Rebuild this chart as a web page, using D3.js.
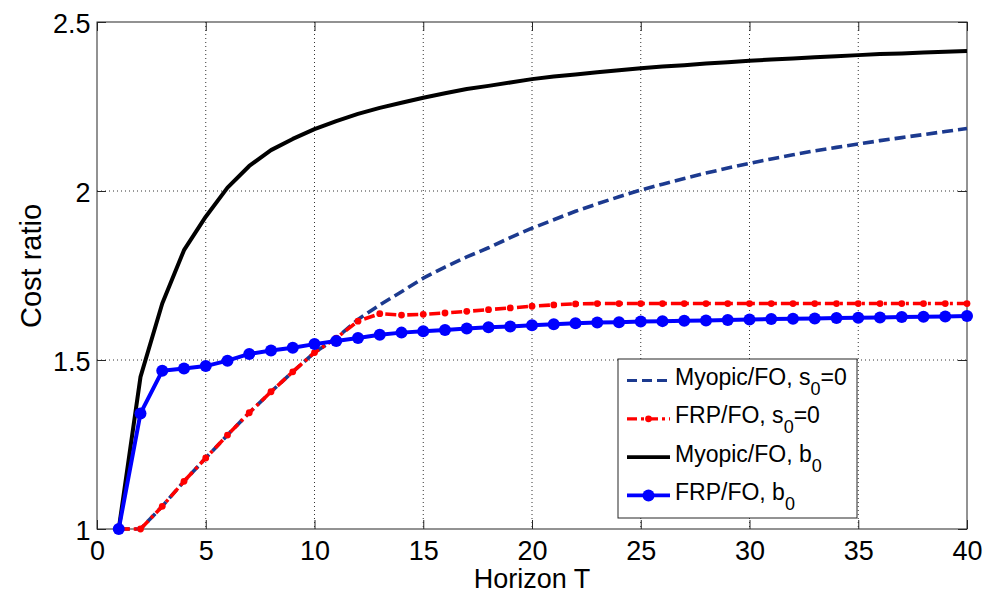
<!DOCTYPE html>
<html><head><meta charset="utf-8">
<script src="https://cdn.jsdelivr.net/npm/d3@7/dist/d3.min.js"></script>
<style>
body{margin:0;background:#fff}
svg{display:block;background:#fff}
text{font-family:"Liberation Sans",Arial,Helvetica,sans-serif;fill:#000}
</style>
</head><body>
<svg id="chart" width="989" height="597"></svg>
<script>
// ---------- data ----------
const horizon = [1,2,3,4,5,6,7,8,9,10,11,12,13,14,15,16,17,18,19,20,21,22,23,24,25,26,27,28,29,30,31,32,33,34,35,36,37,38,39,40];
const myopicS0 = [1.000,1.000,1.067,1.141,1.210,1.278,1.344,1.406,1.465,1.522,1.565,1.620,1.663,1.702,1.742,1.775,1.805,1.832,1.862,1.890,1.915,1.940,1.962,1.983,2.003,2.020,2.037,2.053,2.068,2.082,2.095,2.107,2.119,2.129,2.139,2.149,2.158,2.167,2.176,2.185];
const frpS0    = [1.000,1.000,1.067,1.141,1.210,1.278,1.344,1.406,1.465,1.522,1.565,1.615,1.637,1.633,1.635,1.639,1.644,1.649,1.654,1.659,1.663,1.666,1.667,1.667,1.667,1.667,1.667,1.667,1.667,1.667,1.667,1.667,1.667,1.667,1.667,1.667,1.667,1.667,1.667,1.667];
const myopicB0 = [1.000,1.450,1.667,1.825,1.924,2.010,2.074,2.121,2.154,2.183,2.207,2.228,2.246,2.261,2.276,2.289,2.302,2.311,2.321,2.331,2.339,2.345,2.351,2.357,2.363,2.368,2.372,2.377,2.381,2.385,2.389,2.392,2.396,2.399,2.402,2.405,2.407,2.410,2.412,2.414];
const frpB0    = [1.000,1.342,1.468,1.475,1.482,1.498,1.518,1.528,1.536,1.547,1.556,1.565,1.575,1.581,1.585,1.589,1.593,1.597,1.599,1.603,1.606,1.609,1.611,1.612,1.614,1.615,1.616,1.617,1.618,1.620,1.621,1.622,1.623,1.624,1.625,1.626,1.627,1.628,1.629,1.630];

const xTicks = [0,5,10,15,20,25,30,35,40];
const yTicks = [1,1.5,2,2.5];
const yTickLabels = ["1","1.5","2","2.5"];
const xLabel = "Horizon T";
const yLabel = "Cost ratio";
// legend labels: [main, subscript, after]
const legendLabels = [
  ["Myopic/FO, s","0","=0"],
  ["FRP/FO, s","0","=0"],
  ["Myopic/FO, b","0",""],
  ["FRP/FO, b","0",""]
];

// ---------- layout ----------
const m = {left:97, right:967, top:22, bottom:529};
const svg = d3.select("#chart");

const x = d3.scaleLinear().domain([0,40]).range([m.left, m.right]);
const y = d3.scaleLinear().domain([1,2.5]).range([m.bottom, m.top]);

// grid
const grid = svg.append("g").attr("class","grid");
grid.selectAll("line.gx").data(xTicks.slice(1,-1)).join("line")
  .attr("x1",d=>x(d)).attr("x2",d=>x(d)).attr("y1",m.top).attr("y2",m.bottom)
  .attr("stroke","#333").attr("stroke-width",1).attr("stroke-dasharray","1,3");
grid.selectAll("line.gy").data(yTicks.slice(1,-1)).join("line")
  .attr("y1",d=>y(d)).attr("y2",d=>y(d)).attr("x1",m.left).attr("x2",m.right)
  .attr("stroke","#333").attr("stroke-width",1).attr("stroke-dasharray","1,3");

// axes
const tickLen = 9;
const fs = 27;
const gB = svg.append("g").attr("transform",`translate(0,${m.bottom})`)
  .call(d3.axisBottom(x).tickValues(xTicks).tickFormat(d3.format("d")).tickSizeInner(-tickLen).tickSizeOuter(0).tickPadding(12));
const gT = svg.append("g").attr("transform",`translate(0,${m.top})`)
  .call(d3.axisTop(x).tickValues(xTicks).tickFormat("").tickSizeInner(-tickLen).tickSizeOuter(0));
const gL = svg.append("g").attr("transform",`translate(${m.left},0)`)
  .call(d3.axisLeft(y).tickValues(yTicks).tickFormat((d,i)=>yTickLabels[i]).tickSizeInner(-tickLen).tickSizeOuter(0).tickPadding(6.5));
const gR = svg.append("g").attr("transform",`translate(${m.right},0)`)
  .call(d3.axisRight(y).tickValues(yTicks).tickFormat("").tickSizeInner(-tickLen).tickSizeOuter(0));
[gB,gT,gL,gR].forEach(g=>{
  g.select(".domain").remove();
  g.selectAll(".tick line").attr("stroke","#262626").attr("stroke-width",1);
  g.selectAll("text").attr("font-size",fs).attr("font-family","'Liberation Sans',Arial,sans-serif").attr("fill","#000");
});
gL.selectAll("text").attr("dy","0.37em");

// box
svg.append("rect").attr("x",m.left).attr("y",m.top)
  .attr("width",m.right-m.left).attr("height",m.bottom-m.top)
  .attr("fill","none").attr("stroke","#262626").attr("stroke-width",1);

// axis labels
svg.append("text").attr("x",(m.left+m.right)/2).attr("y",588)
  .attr("text-anchor","middle").attr("font-size",fs).text(xLabel);
svg.append("text").attr("transform",`translate(41,266) rotate(-90)`)
  .attr("text-anchor","middle").attr("font-size",29).text(yLabel);

// series
const navy = "#1c3a8f", red = "#ff0000", black = "#000000", blue = "#0000ff";
const line = d3.line().x((d,i)=>x(horizon[i])).y(d=>y(d));
const plot = svg.append("g");

plot.append("path").datum(myopicS0).attr("d",line)
  .attr("fill","none").attr("stroke",navy).attr("stroke-width",3.6)
  .attr("stroke-dasharray","11,5").attr("stroke-linejoin","round");

plot.append("path").datum(frpS0).attr("d",line)
  .attr("fill","none").attr("stroke",red).attr("stroke-width",3.6)
  .attr("stroke-dasharray","11,4,3,4").attr("stroke-linejoin","round");
plot.selectAll("circle.rd").data(frpS0).join("circle")
  .attr("cx",(d,i)=>x(horizon[i])).attr("cy",d=>y(d)).attr("r",3.4).attr("fill",red);

plot.append("path").datum(myopicB0).attr("d",line)
  .attr("fill","none").attr("stroke",black).attr("stroke-width",4).attr("stroke-linejoin","round");

plot.append("path").datum(frpB0).attr("d",line)
  .attr("fill","none").attr("stroke",blue).attr("stroke-width",4).attr("stroke-linejoin","round");
plot.selectAll("circle.bd").data(frpB0).join("circle")
  .attr("cx",(d,i)=>x(horizon[i])).attr("cy",d=>y(d)).attr("r",6).attr("fill",blue);

// legend
const lg = svg.append("g");
lg.append("rect").attr("x",618).attr("y",359).attr("width",239).attr("height",159)
  .attr("fill","#fff").attr("stroke","#262626").attr("stroke-width",1);
const styles = [
  {c:navy, dash:"10,5", w:3.2, mk:null},
  {c:red, dash:"10,4,3,4", w:3.2, mk:3.4},
  {c:black, dash:null, w:3.8, mk:null},
  {c:blue, dash:null, w:3.8, mk:6}
];
legendLabels.forEach((lab,i)=>{
  const base = 385 + i*38.3;
  const cy = base - 4.5;
  const s = styles[i];
  lg.append("line").attr("x1",627).attr("x2",670).attr("y1",cy).attr("y2",cy)
    .attr("stroke",s.c).attr("stroke-width",s.w).attr("stroke-dasharray",s.dash);
  if (s.mk) lg.append("circle").attr("cx",648.5).attr("cy",cy).attr("r",s.mk).attr("fill",s.c);
  const t = lg.append("text").attr("x",675).attr("y",base).attr("font-size",23);
  t.append("tspan").text(lab[0]);
  t.append("tspan").attr("font-size",18).attr("dy",10).text(lab[1]);
  if (lab[2]) t.append("tspan").attr("dy",-10).text(lab[2]);
});
</script>
</body></html>
